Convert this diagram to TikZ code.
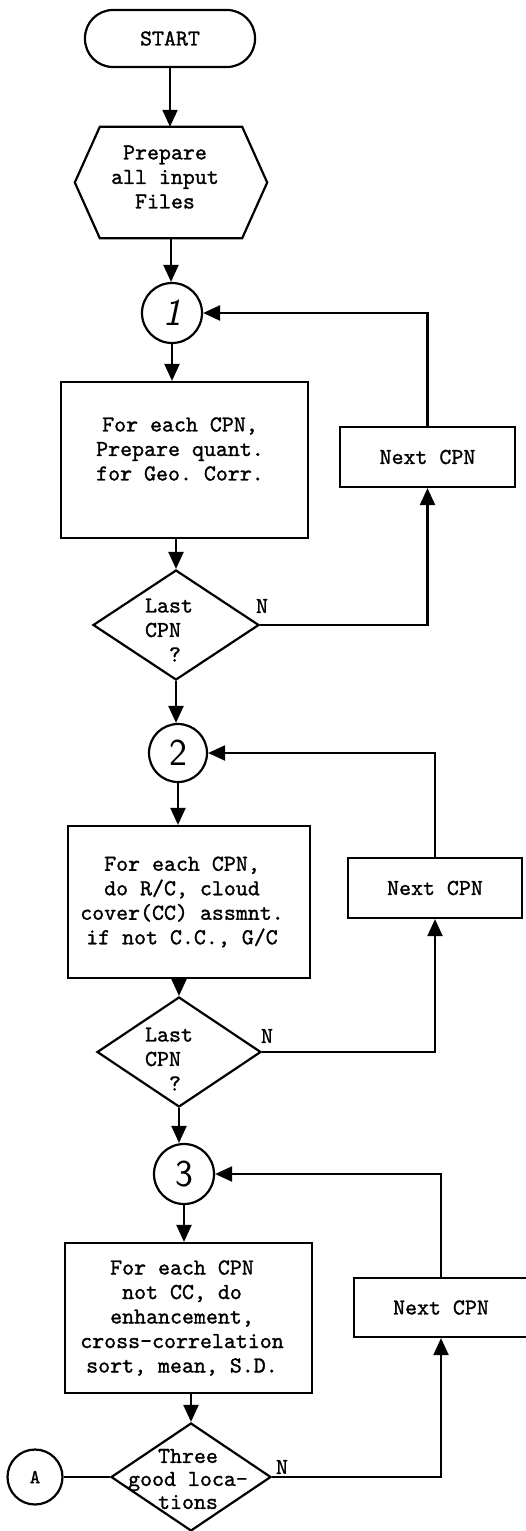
\documentclass[tikz,border=0pt]{standalone}
\usepackage{fontspec}
\setmonofont{lmmono10-regular.otf}[FakeBold=1.2]
\usetikzlibrary{arrows.meta,shapes.geometric,calc}
\tikzset{
  lw/.style={line width=2.2pt},
  termbox/.style={draw,lw,rectangle,rounded corners=28pt,minimum width=170pt,minimum height=57pt,inner sep=0},
  procbox/.style={draw,lw,rectangle,inner sep=0,align=center},
  conncirc/.style={draw,lw,circle,minimum size=#1,inner sep=0,font=\sffamily\fontsize{38}{38}\selectfont},
  decbox/.style={draw,lw,diamond,inner sep=0},
  txt/.style={align=center,inner sep=0},
  ltxt/.style={align=left,inner sep=0},
  flow/.style={lw,-{Triangle[length=17pt,width=15pt]}},
}
\begin{document}
\begin{tikzpicture}[x=1pt,y=-1pt,
  every node/.append style={font=\ttfamily\fontsize{22.8}{24.5}\selectfont}]
\useasboundingbox (0,0) rectangle (525,1531);

% start / prepare
\node[termbox] (start) at (170,38.5) {START};
\node[minimum width=192pt,minimum height=111pt,inner sep=0] (prep) at (171,182.5) {};
\draw[lw] (prep.west) -- ($(prep.north west)+(25,0)$) -- ($(prep.north east)+(-25,0)$)
  -- (prep.east) -- ($(prep.south east)+(-25,0)$) -- ($(prep.south west)+(25,0)$) -- cycle;
\node[txt] (preptxt) at (165,177) {Prepare\\all input\\Files};

% loop 1
\node[conncirc=60pt] (c1) at (172,313) {\slshape 1};
\node[procbox,minimum width=247pt,minimum height=156pt] (b1) at (184.5,460) {};
\node[txt] (b1t) at (180,449) {For each CPN,\\Prepare quant.\\for Geo. Corr.};
\node[decbox,minimum width=166pt,minimum height=110pt] (d1) at (176,625) {};
\node[ltxt] (d1t) at (169,630) {Last\\CPN\\~~?};
\node[txt] (n1) at (262,606) {N};
\node[procbox,minimum width=175pt,minimum height=60pt] (nx1) at (427.5,457) {Next CPN};

% loop 2
\node[conncirc=58pt] (c2) at (178,753) {2};
\node[procbox,minimum width=242pt,minimum height=152pt] (b2) at (189,902) {};
\node[txt] (b2t) at (182,902) {For each CPN,\\do R/C, cloud\\cover(CC) assmnt.\\if not C.C., G/C};
\node[decbox,minimum width=164pt,minimum height=110pt] (d2) at (179,1052) {};
\node[ltxt] (d2t) at (169,1059) {Last\\CPN\\~~?};
\node[txt] (n2) at (267,1036) {N};
\node[procbox,minimum width=174pt,minimum height=60pt] (nx2) at (435,888) {Next CPN};

% loop 3
\node[conncirc=60pt] (c3) at (184,1174) {3};
\node[procbox,minimum width=247pt,minimum height=150pt] (b3) at (188.5,1318) {};
\node[txt] (b3t) at (182,1318) {For each CPN\\not CC, do\\enhancement,\\cross-correlation\\sort, mean, S.D.};
\node[decbox,minimum width=160pt,minimum height=108pt] (d3) at (191,1477) {};
\node[txt,font=\ttfamily\fontsize{22.8}{23}\selectfont] (d3t) at (188,1479) {Three\\good loca-\\tions};
\node[txt] (n3) at (282,1467) {N};
\node[procbox,minimum width=174pt,minimum height=59pt] (nx3) at (441,1307.5) {Next CPN};
\node[draw,lw,circle,minimum size=55pt,inner sep=0,font=\ttfamily\fontsize{20}{20}\selectfont] (A) at (35,1477) {A};

% connectors
\draw[flow] (start.south) -- (start.south |- prep.north);
\draw[flow] (prep.south) -- (prep.south |- c1.north);
\draw[flow] (c1.south) -- (c1.south |- b1.north);
\draw[flow] (d1.north |- b1.south) -- (d1.north);
\draw[flow] (d1.east) -| (nx1.south);
\draw[flow] (nx1.north) |- (c1.east);
\draw[flow] (d1.south) -- (d1.south |- c2.north);
\draw[flow] (c2.south) -- (c2.south |- b2.north);
\draw[flow] (d2.north |- b2.south) -- (d2.north);
\draw[flow] (d2.east) -| (nx2.south);
\draw[flow] (nx2.north) |- (c2.east);
\draw[flow] (d2.south) -- (d2.south |- c3.north);
\draw[flow] (c3.south) -- (c3.south |- b3.north);
\draw[flow] (d3.north |- b3.south) -- (d3.north);
\draw[flow] (d3.east) -| (nx3.south);
\draw[flow] (nx3.north) |- (c3.east);
\draw[lw] (A) -- (d3.west);
\end{tikzpicture}
\end{document}
